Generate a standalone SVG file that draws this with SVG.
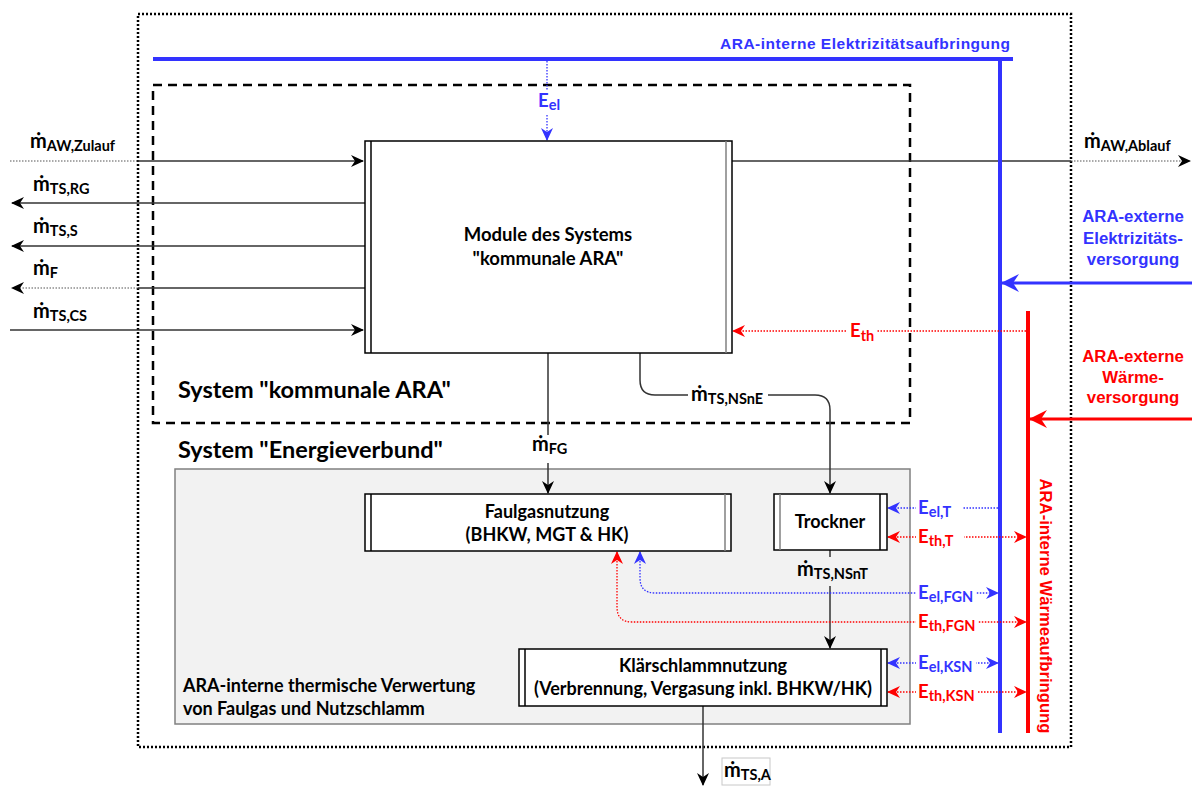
<svg xmlns="http://www.w3.org/2000/svg" width="1192" height="786" viewBox="0 0 1192 786">
<style>
.t{font-family:Lato,"Open Sans",sans-serif;font-weight:700;fill:#000}
.a{font-family:"Liberation Sans",Arial,sans-serif;font-weight:700}
.blue{fill:#3333ff}
.red{fill:#ff0000}
.box{fill:#fff;stroke:#000;stroke-width:1.5}
.ln{fill:none;stroke:#333;stroke-width:1.5}
.dotk{fill:none;stroke:#555;stroke-width:1.2;stroke-dasharray:1.5 1.5}
.bd{fill:none;stroke:#3333ff;stroke-width:1.3;stroke-dasharray:1.5 1.5}
.rd{fill:none;stroke:#ff0000;stroke-width:1.3;stroke-dasharray:1.5 1.5}
.m{font-size:20px}
.s{font-size:14.5px}
.e{font-size:18.5px}
.es{font-size:14.5px}
</style>
<defs>
<marker id="ak" markerUnits="userSpaceOnUse" markerWidth="14" markerHeight="12" refX="12" refY="6" orient="auto-start-reverse" viewBox="0 0 14 12"><path d="M0,0 L13,6 L0,12 L4,6 Z" fill="#000"/></marker>
<marker id="ab" markerUnits="userSpaceOnUse" markerWidth="14" markerHeight="12" refX="12" refY="6" orient="auto-start-reverse" viewBox="0 0 14 12"><path d="M0,0 L13,6 L0,12 L4,6 Z" fill="#3333ff"/></marker>
<marker id="ar" markerUnits="userSpaceOnUse" markerWidth="14" markerHeight="12" refX="12" refY="6" orient="auto-start-reverse" viewBox="0 0 14 12"><path d="M0,0 L13,6 L0,12 L4,6 Z" fill="#ff0000"/></marker>
<marker id="abL" markerUnits="userSpaceOnUse" markerWidth="20" markerHeight="18" refX="17" refY="9" orient="auto" viewBox="0 0 20 18"><path d="M0,0 L18,9 L0,18 L6,9 Z" fill="#3333ff"/></marker>
<marker id="arL" markerUnits="userSpaceOnUse" markerWidth="20" markerHeight="18" refX="17" refY="9" orient="auto" viewBox="0 0 20 18"><path d="M0,0 L18,9 L0,18 L6,9 Z" fill="#ff0000"/></marker>
</defs>
<rect width="1192" height="786" fill="#fff"/>

<g id="system-ara-outer">
<rect x="138" y="14" width="933" height="733" fill="none" stroke="#000" stroke-width="2.5" stroke-dasharray="2 2"/>
</g>
<g id="energieverbund">
<rect x="175" y="469" width="735" height="255" fill="#f2f2f2" stroke="#808080" stroke-width="1.5"/>
<text class="t" x="178" y="458" font-size="23.5">System "Energieverbund"</text>
<text class="t" x="183" y="692" font-size="18">ARA-interne thermische Verwertung</text>
<text class="t" x="183" y="715" font-size="18">von Faulgas und Nutzschlamm</text>
</g>
<g id="system-kommunale-ara">
<rect x="153" y="85" width="757" height="338" fill="none" stroke="#000" stroke-width="2.5" stroke-dasharray="9 6"/>
<text class="t" x="178" y="398" font-size="23.5">System "kommunale ARA"</text>
</g>

<g id="connectors">
<path class="dotk" d="M10,161 H138"/>
<path class="ln" d="M138,161 H363" marker-end="url(#ak)"/>
<path class="ln" d="M365,203 H12" marker-end="url(#ak)"/>
<path class="ln" d="M365,246 H12" marker-end="url(#ak)"/>
<path class="ln" d="M365,288 H138"/>
<path class="dotk" d="M138,288 H12" marker-end="url(#ak)"/>
<path class="ln" d="M10,330 H363" marker-end="url(#ak)"/>
<path class="ln" d="M732,161 H1071"/>
<path class="dotk" d="M1071,161 H1190" marker-end="url(#ak)"/>
<path class="ln" d="M548,353 V435"/>
<path class="ln" d="M548,463 V493" marker-end="url(#ak)"/>
<path class="ln" d="M640,353 V380 Q640,395 655,395 H815 Q830,395 830,410 V493" marker-end="url(#ak)"/>
<path class="ln" d="M830,550 V557"/>
<path class="ln" d="M830,586 V648" marker-end="url(#ak)"/>
<path class="ln" d="M703,706 V785" marker-end="url(#ak)"/>

<path d="M153,59 H1013" stroke="#3333ff" stroke-width="4" fill="none"/>
<path d="M1000,57 V733" stroke="#3333ff" stroke-width="4" fill="none"/>
<path d="M1192,283 H1002" stroke="#3333ff" stroke-width="3" fill="none" marker-end="url(#abL)"/>
<path d="M1028,311 V733" stroke="#ff0000" stroke-width="4" fill="none"/>
<path d="M1192,419 H1030" stroke="#ff0000" stroke-width="3" fill="none" marker-end="url(#arL)"/>

<path class="bd" d="M547,61 V140" marker-end="url(#ab)"/>
<path class="rd" d="M1026,331 H733" marker-end="url(#ar)"/>
<path class="bd" d="M998,508 H888" marker-end="url(#ab)"/>
<path class="rd" d="M888,537 H1026" marker-start="url(#ar)" marker-end="url(#ar)"/>
<path class="bd" d="M640,552 V578 Q640,593 655,593 H998" marker-start="url(#ab)" marker-end="url(#ab)"/>
<path class="rd" d="M617,552 V607 Q617,622 632,622 H1026" marker-start="url(#ar)" marker-end="url(#ar)"/>
<path class="bd" d="M888,663 H998" marker-start="url(#ab)" marker-end="url(#ab)"/>
<path class="rd" d="M888,692 H1026" marker-start="url(#ar)" marker-end="url(#ar)"/>
</g>

<g id="module-ara">
<rect class="box" x="365" y="141" width="367" height="212"/>
<path d="M371,141 V353" stroke="#000" stroke-width="1.5"/>
<path d="M726,141 V353" stroke="#808080" stroke-width="1.5"/>
<text class="t" x="548" y="241" font-size="18.5" text-anchor="middle">Module des Systems</text>
<text class="t" x="548" y="265" font-size="18.5" text-anchor="middle">"kommunale ARA"</text>
</g>
<g id="faulgasnutzung">
<rect class="box" x="365" y="494" width="366" height="57"/>
<path d="M371,494 V551" stroke="#000" stroke-width="1.5"/>
<path d="M725,494 V551" stroke="#808080" stroke-width="1.5"/>
<text class="t" x="547" y="518" font-size="18" text-anchor="middle">Faulgasnutzung</text>
<text class="t" x="547" y="541" font-size="18" text-anchor="middle">(BHKW, MGT &amp; HK)</text>
</g>
<g id="trockner">
<rect class="box" x="774" y="494" width="113" height="56"/>
<path d="M780,494 V550" stroke="#808080" stroke-width="1.5"/>
<path d="M880,494 V550" stroke="#000" stroke-width="1.5"/>
<text class="t" x="830" y="528" font-size="18" text-anchor="middle">Trockner</text>
</g>
<g id="klaerschlammnutzung">
<rect class="box" x="519" y="649" width="368" height="57"/>
<path d="M525,649 V706" stroke="#000" stroke-width="1.5"/>
<path d="M881,649 V706" stroke="#000" stroke-width="1.5"/>
<text class="t" x="703" y="672" font-size="18" text-anchor="middle">Klärschlammnutzung</text>
<text class="t" x="703" y="695" font-size="18" text-anchor="middle">(Verbrennung, Vergasung inkl. BHKW/HK)</text>
</g>

<g id="labels-mass">
<text class="t" x="30" y="148"><tspan class="m">ṁ</tspan><tspan class="s" dy="3">AW,Zulauf</tspan></text>
<text class="t" x="33" y="191"><tspan class="m">ṁ</tspan><tspan class="s" dy="3">TS,RG</tspan></text>
<text class="t" x="33" y="233"><tspan class="m">ṁ</tspan><tspan class="s" dy="3">TS,S</tspan></text>
<text class="t" x="33" y="275"><tspan class="m">ṁ</tspan><tspan class="s" dy="3">F</tspan></text>
<text class="t" x="33" y="318"><tspan class="m">ṁ</tspan><tspan class="s" dy="3">TS,CS</tspan></text>
<text class="t" x="1084" y="148"><tspan class="m">ṁ</tspan><tspan class="s" dy="3">AW,Ablauf</tspan></text>
<text class="t" x="532" y="451"><tspan class="m">ṁ</tspan><tspan class="s" dy="3">FG</tspan></text>
<rect x="688" y="385" width="80" height="22" fill="#fff"/>
<text class="t" x="691" y="401"><tspan class="m">ṁ</tspan><tspan class="s" dy="3">TS,NSnE</tspan></text>
<text class="t" x="797" y="576"><tspan class="m">ṁ</tspan><tspan class="s" dy="3">TS,NSnT</tspan></text>
<rect x="722" y="758" width="48" height="27" fill="#fff" stroke="#c8c8c8" stroke-width="1"/>
<text class="t" x="724" y="777"><tspan class="m">ṁ</tspan><tspan class="s" dy="3">TS,A</tspan></text>
</g>

<g id="labels-energy">
<rect x="536" y="91" width="26" height="24" fill="#fff"/>
<text class="t blue" x="538" y="107"><tspan class="e">E</tspan><tspan class="es" dy="3">el</tspan></text>
<rect x="847" y="321" width="30" height="24" fill="#fff"/>
<text class="t red" x="850" y="337"><tspan class="e">E</tspan><tspan class="es" dy="4">th</tspan></text>
<rect x="916" y="497" width="46" height="24" fill="#fff"/>
<text class="t blue" x="918" y="514"><tspan class="e">E</tspan><tspan class="es" dy="3">el,T</tspan></text>
<rect x="916" y="526" width="48" height="24" fill="#fff"/>
<text class="t red" x="918" y="543"><tspan class="e">E</tspan><tspan class="es" dy="3">th,T</tspan></text>
<rect x="916" y="582" width="60" height="24" fill="#fff"/>
<text class="t blue" x="918" y="599"><tspan class="e">E</tspan><tspan class="es" dy="3">el,FGN</tspan></text>
<rect x="916" y="611" width="62" height="24" fill="#fff"/>
<text class="t red" x="918" y="628"><tspan class="e">E</tspan><tspan class="es" dy="3">th,FGN</tspan></text>
<rect x="916" y="652" width="60" height="24" fill="#fff"/>
<text class="t blue" x="918" y="669"><tspan class="e">E</tspan><tspan class="es" dy="3">el,KSN</tspan></text>
<rect x="916" y="681" width="62" height="24" fill="#fff"/>
<text class="t red" x="918" y="698"><tspan class="e">E</tspan><tspan class="es" dy="3">th,KSN</tspan></text>
</g>

<g id="supply-labels">
<text class="a blue" x="1010" y="49" font-size="15.5" text-anchor="end" textLength="290">ARA-interne Elektrizitätsaufbringung</text>
<text class="a blue" x="1133" y="222" font-size="16.8" text-anchor="middle">ARA-externe</text>
<text class="a blue" x="1133" y="244" font-size="16.8" text-anchor="middle">Elektrizitäts-</text>
<text class="a blue" x="1133" y="265" font-size="16.8" text-anchor="middle">versorgung</text>
<text class="a red" x="1133" y="362" font-size="16.8" text-anchor="middle">ARA-externe</text>
<text class="a red" x="1133" y="383" font-size="16.8" text-anchor="middle">Wärme-</text>
<text class="a red" x="1133" y="403" font-size="16.8" text-anchor="middle">versorgung</text>
<text class="a red" font-size="16" text-anchor="middle" transform="translate(1040,606) rotate(90)" textLength="255" lengthAdjust="spacingAndGlyphs">ARA-interne Wärmeaufbringung</text>
</g>
</svg>
